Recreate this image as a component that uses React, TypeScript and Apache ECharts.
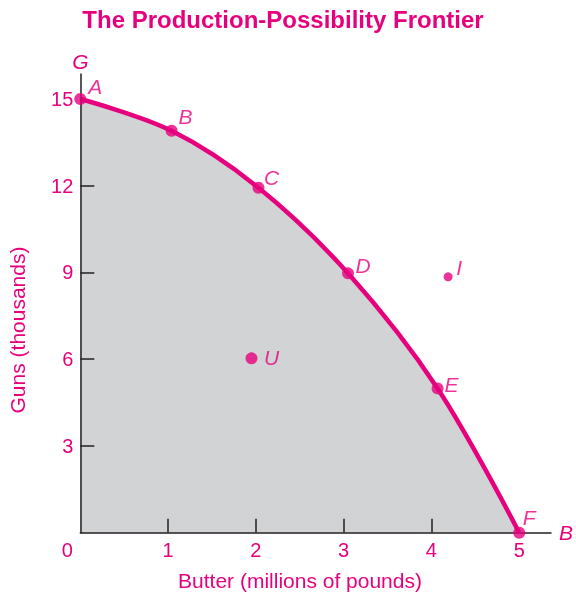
import { useEffect, useRef } from 'react';
import * as echarts from 'echarts';

// ---- data ----
const frontierNames = ['A', 'B', 'C', 'D', 'E', 'F'];
const frontierButter = [0, 1.04, 2.03, 3.05, 4.07, 5];
const frontierGuns = [15, 13.9, 11.93, 8.97, 4.99, 0];

const otherNames = ['U', 'I'];
const otherButter = [1.95, 4.19];
const otherGuns = [6.03, 8.85];

const xTickLabels = [0, 1, 2, 3, 4, 5];
const xTickMarks = [1, 2, 3, 4];
const yTickLabels = [3, 6, 9, 12, 15];
const yTickMarks = [3, 6, 9, 12];

// ---- styles ----
const PINK = '#e6007e';
const FILL = '#d1d3d4';
const AXIS = '#231f20';
const FONT = '"Liberation Sans", Arial, Helvetica, sans-serif';

const labelOffsets: Record<string, [number, number]> = {
  A: [15, -13],
  B: [14, -14],
  C: [13, -10],
  D: [15, -8],
  E: [14, -4],
  F: [10, -15],
  U: [20, -1],
  I: [11, -9],
};
const symbolSizes: Record<string, number> = { U: 12, I: 9 };

export default function App() {
  const ref = useRef<HTMLDivElement>(null);

  useEffect(() => {
    if (!ref.current) return;
    const chart = echarts.init(ref.current, null, { renderer: 'svg' });

    const labelStyle = (name: string) => ({
      show: true,
      position: 'inside' as const,
      offset: labelOffsets[name],
      formatter: name,
      color: PINK,
      fontSize: 21,
      fontStyle: 'italic' as const,
      fontFamily: FONT,
    });

    const frontierData = frontierNames.map((n, i) => ({
      name: n,
      value: [frontierButter[i], frontierGuns[i]],
      label: labelStyle(n),
    }));
    const otherData = otherNames.map((n, i) => ({
      name: n,
      value: [otherButter[i], otherGuns[i]],
      symbolSize: symbolSizes[n],
      label: labelStyle(n),
    }));

    chart.setOption({
      animation: false,
      title: {
        text: 'The Production-Possibility Frontier',
        left: 278,
        top: 2,
        textAlign: 'center',
        textStyle: {
          color: PINK,
          fontSize: 24,
          fontWeight: 'bold',
          fontFamily: FONT,
        },
      },
      grid: {
        left: 80.3,
        top: 74,
        width: 472.4,
        height: 458.7,
        containLabel: false,
      },
      xAxis: {
        type: 'value',
        min: 0,
        max: 5.362,
        interval: 1,
        z: 10,
        name: 'B',
        nameLocation: 'end',
        nameGap: 8,
        nameTextStyle: {
          color: PINK,
          fontSize: 21,
          fontStyle: 'italic',
          fontFamily: FONT,
          verticalAlign: 'middle',
        },
        splitLine: { show: false },
        axisLine: { show: true, lineStyle: { color: AXIS, width: 1.5 } },
        axisTick: {
          show: true,
          inside: true,
          length: 14,
          customValues: xTickMarks,
          lineStyle: { color: AXIS, width: 1.5 },
        },
        axisLabel: {
          customValues: xTickLabels,
          margin: 7,
          color: PINK,
          fontSize: 20,
          fontFamily: FONT,
          formatter: (v: number) => (v === 0 ? '{z|0}' : String(v)),
          rich: {
            z: { color: PINK, fontSize: 20, fontFamily: FONT, padding: [0, 26, 0, 0] },
          },
        },
      },
      yAxis: {
        type: 'value',
        min: 0,
        max: 15.865,
        interval: 3,
        z: 10,
        name: 'G',
        nameLocation: 'end',
        nameGap: 2,
        nameTextStyle: {
          color: PINK,
          fontSize: 21,
          fontStyle: 'italic',
          fontFamily: FONT,
          align: 'center',
        },
        splitLine: { show: false },
        axisLine: { show: true, lineStyle: { color: AXIS, width: 1.5 } },
        axisTick: {
          show: true,
          inside: true,
          length: 14,
          customValues: yTickMarks,
          lineStyle: { color: AXIS, width: 1.5 },
        },
        axisLabel: {
          customValues: yTickLabels,
          margin: 7,
          color: PINK,
          fontSize: 20,
          fontFamily: FONT,
        },
      },
      graphic: [
        {
          type: 'text',
          x: 300,
          y: 580,
          style: {
            text: 'Butter (millions of pounds)',
            fill: PINK,
            fontSize: 21,
            fontFamily: FONT,
            align: 'center',
            verticalAlign: 'middle',
          },
        },
        {
          type: 'text',
          x: 17,
          y: 330,
          rotation: Math.PI / 2,
          style: {
            text: 'Guns (thousands)',
            fill: PINK,
            fontSize: 21,
            fontFamily: FONT,
            align: 'center',
            verticalAlign: 'middle',
          },
        },
      ],
      series: [
        {
          type: 'line',
          data: frontierButter.map((x, i) => [x, frontierGuns[i]]),
          smooth: 0.35,
          showSymbol: false,
          lineStyle: { color: PINK, width: 4.5 },
          areaStyle: { color: FILL, opacity: 1 },
          z: 2,
          silent: true,
        },
        {
          type: 'scatter',
          data: frontierData,
          symbolSize: 12,
          itemStyle: { color: PINK },
          z: 12,
        },
        {
          type: 'scatter',
          data: otherData,
          itemStyle: { color: PINK },
          z: 12,
        },
      ],
    });

    return () => chart.dispose();
  }, []);

  return (
    <div
      ref={ref}
      style={{ position: 'fixed', left: 0, top: 0, width: 576, height: 595 }}
    />
  );
}
